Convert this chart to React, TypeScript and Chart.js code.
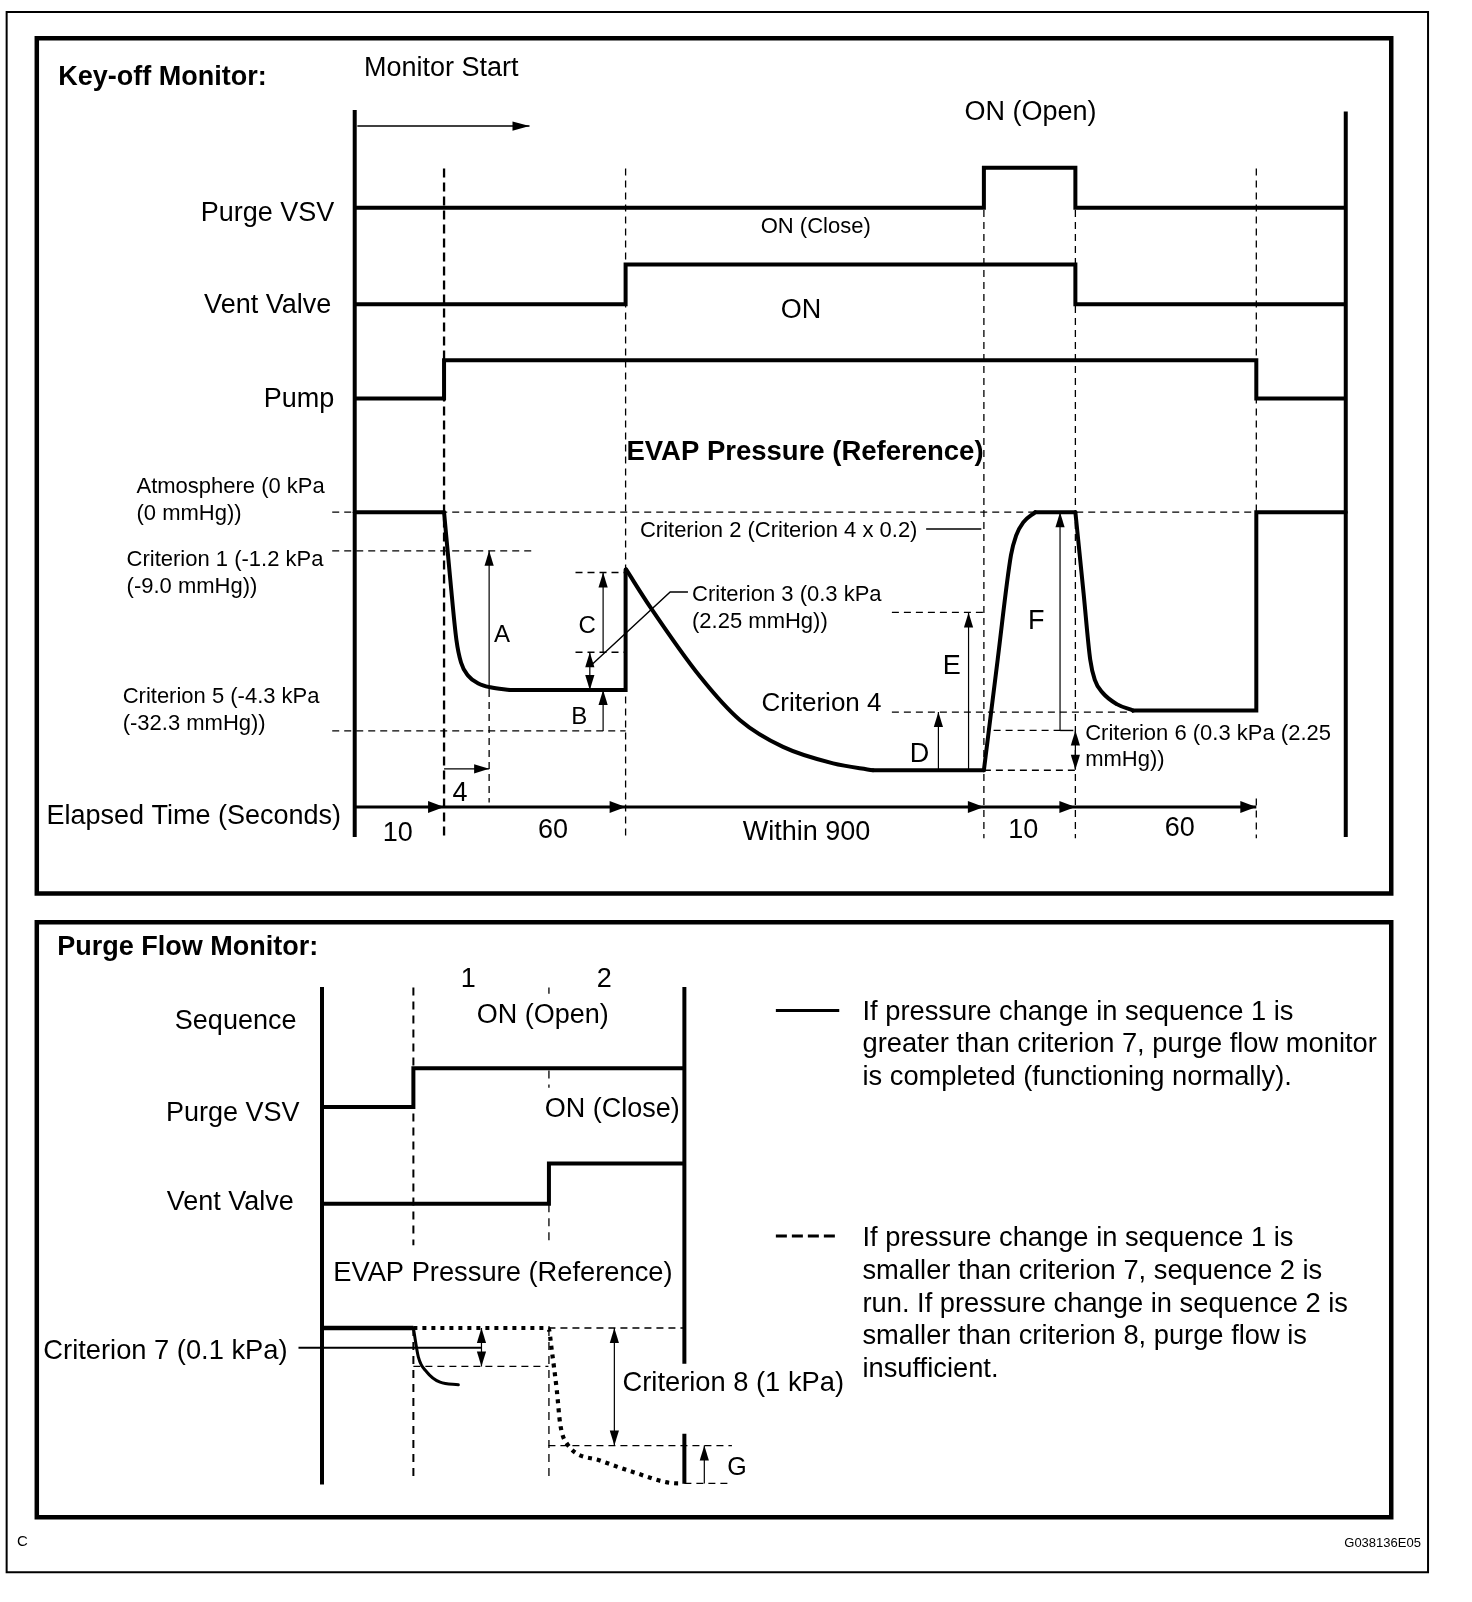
import React, { useEffect, useRef } from 'react';
import { Chart, registerables } from 'chart.js';

Chart.register(...registerables);

type Pt = [number, number];
type Arrow = { from: Pt; to: Pt; both?: boolean; big?: boolean };
type Label = { t: string; x: number; y: number; s: number; a?: CanvasTextAlign; b?: boolean };

const CANVAS_W = 1472;
const CANVAS_H = 1602;
const X_MAX = 1440;
const Y_MAX = 1567;
const FONT = '"Liberation Sans", Arial, Helvetica, sans-serif';
const TEXT_DY = 1.5;

// ---------- frames ----------
const OUTER_FRAME: Pt[] = [[6.5, 11.7], [1397, 11.7], [1397, 1538], [6.5, 1538], [6.5, 11.7]];
const TOP_PANEL: Pt[] = [[36, 37.5], [1361, 37.5], [1361, 874], [36, 874], [36, 37.5]];
const BOTTOM_PANEL: Pt[] = [[36, 902], [1361, 902], [1361, 1484], [36, 1484], [36, 902]];

// ---------- Key-off monitor ----------
const KO_AXES: Pt[][] = [
  [[347, 107.6], [347, 818.6]],
  [[1316.5, 109], [1316.5, 818.6]],
];
const KO_PURGE_VSV: Pt[] = [[347, 203.2], [962.5, 203.2], [962.5, 164], [1052, 164], [1052, 203.2], [1316.5, 203.2]];
const KO_VENT_VALVE: Pt[] = [[347, 297.5], [612, 297.5], [612, 258.6], [1052, 258.6], [1052, 297.5], [1316.5, 297.5]];
const KO_PUMP: Pt[] = [[347, 389.7], [434.4, 389.7], [434.4, 352.3], [1229, 352.3], [1229, 389.7], [1316.5, 389.7]];

const KO_PRESSURE_STRAIGHT: Pt[][] = [
  [[347, 501], [434.4, 501]],
  [[499, 675], [612, 675], [612, 557]],
  [[854, 753.4], [962.5, 753.4]],
  [[1012.7, 501], [1052, 501]],
  [[1108.6, 695], [1229, 695], [1229, 501], [1316.5, 501]],
];
const KO_PRESSURE_CURVES: Pt[][] = [
  [[434.4, 501], [440.5, 567], [446.5, 626], [451, 648], [458, 661], [468, 668.5], [479.7, 672.3], [499, 675]],
  [[612.5, 557], [636, 593.6], [685, 662], [724, 704.5], [766, 730.6], [815, 746.7], [854, 753.4]],
  [[962.5, 753.4], [976, 645], [989, 543], [994, 524], [1001, 511], [1012.7, 501]],
  [[1052, 501], [1060, 580], [1066.5, 645], [1071, 665], [1079, 678], [1093, 689], [1108.6, 695]],
];

const KO_GUIDE_START: Pt[] = [[434.4, 164.7], [434.4, 820]];
const KO_GUIDES_V: Pt[][] = [
  [[612, 164.7], [612, 820]],
  [[962.5, 205.5], [962.5, 820]],
  [[1052, 205.5], [1052, 820]],
  [[1229, 164.7], [1229, 695]],
  [[1229, 781], [1229, 820]],
  [[478.5, 675], [478.5, 785]],
];
const KO_GUIDES_H: Pt[][] = [
  [[325, 501], [1229, 501]],
  [[325, 538.8], [522, 538.8]],
  [[325, 715], [612, 715]],
  [[563, 560], [612, 560]],
  [[563, 638], [612, 638]],
  [[872.5, 599], [962.5, 599]],
  [[872.5, 696.5], [1108.6, 696.5]],
  [[972, 714.5], [1037, 714.5]],
  [[962.5, 753.4], [1052, 753.4]],
];
const KO_LEADERS: Pt[][] = [
  [[906, 517.5], [960, 517.5]],
  [[577, 652], [655.6, 579], [673, 579]],
  [[1037, 714.5], [1050, 714.5]],
];
const KO_ARROWS: Arrow[] = [
  { from: [349.6, 123.3], to: [518, 123.3], big: true },
  { from: [478.5, 675], to: [478.5, 538.8] },
  { from: [590, 638], to: [590, 560] },
  { from: [590, 715], to: [590, 675] },
  { from: [577, 638], to: [577, 675], both: true },
  { from: [918, 753.4], to: [918, 696.5] },
  { from: [947.5, 753.4], to: [947.5, 599] },
  { from: [1037, 714.5], to: [1037, 501] },
  { from: [1052, 714.5], to: [1052, 753], both: true },
  { from: [434.4, 752], to: [478.5, 752] },
];

const ELAPSED_MARKS = [347, 434.4, 612, 962.5, 1052, 1229];
const ELAPSED_Y = 789.3;
const ELAPSED_LABELS = ['10', '60', 'Within 900', '10', '60'];
const ELAPSED_LABEL_X = [389, 541, 789, 1001, 1154];
const ELAPSED_LABEL_Y = [814, 811, 813, 811, 809];

// ---------- Purge flow monitor ----------
const PF_AXES: Pt[][] = [
  [[315, 965.4], [315, 1452]],
  [[669.5, 965.4], [669.5, 1334]],
  [[669.5, 1402.5], [669.5, 1451.3]],
];
const PF_PURGE_VSV: Pt[] = [[315, 1082.8], [404.4, 1082.8], [404.4, 1045], [669.5, 1045]];
const PF_VENT_VALVE: Pt[] = [[315, 1177.5], [537, 1177.5], [537, 1138], [669.5, 1138]];
const PF_PRESSURE_BASE: Pt[] = [[315, 1299], [404.4, 1299]];
const PF_NORMAL_CURVE: Pt[] = [[404.4, 1299], [409.3, 1327.5], [417.5, 1342], [430.5, 1352], [448.4, 1354.5]];
const PF_INSUFFICIENT: Pt[] = [
  [404.4, 1299], [470, 1299], [536.5, 1299], [539.8, 1321], [544.7, 1360], [548, 1392.7],
  [554.5, 1412], [587, 1428.6], [619.7, 1440], [658.8, 1450.8], [667, 1451],
];
const PF_GUIDES_V: Pt[][] = [
  [[404.4, 966], [404.4, 1218]],
  [[404.4, 1299], [404.4, 1449]],
  [[537, 966], [537, 972]],
  [[537, 1047], [537, 1064]],
  [[537, 1178], [537, 1218]],
  [[537, 1299], [537, 1449]],
];
const PF_GUIDES_H: Pt[][] = [
  [[536.5, 1299], [669.5, 1299]],
  [[404.4, 1336.6], [536.5, 1336.6]],
  [[536.5, 1414], [716, 1414]],
  [[669.5, 1451], [716, 1451]],
];
const PF_LEADERS: Pt[][] = [[[292, 1318.4], [471, 1318.4]]];
const PF_ARROWS: Arrow[] = [
  { from: [471, 1299], to: [471, 1336.6], both: true },
  { from: [601, 1299], to: [601, 1414], both: true },
  { from: [689, 1451], to: [689, 1414] },
];
const LEGEND_SOLID: Pt[] = [[759, 988.5], [821, 988.5]];
const LEGEND_DASHED: Pt[] = [[759, 1209], [821, 1209]];
const LEGEND_TEXT_1 = [
  'If pressure change in sequence 1 is',
  'greater than criterion 7, purge flow monitor',
  'is completed (functioning normally).',
];
const LEGEND_TEXT_2 = [
  'If pressure change in sequence 1 is',
  'smaller than criterion 7, sequence 2 is',
  'run. If pressure change in sequence 2 is',
  'smaller than criterion 8, purge flow is',
  'insufficient.',
];

const LABELS: Label[] = [
  { t: 'Key-off Monitor:', x: 57, y: 74.5, s: 27, b: true },
  { t: 'Monitor Start', x: 356, y: 66, s: 27 },
  { t: 'ON (Open)', x: 1008, y: 109, s: 27, a: 'center' },
  { t: 'Purge VSV', x: 327, y: 207, s: 27, a: 'right' },
  { t: 'ON (Close)', x: 798, y: 220, s: 22, a: 'center' },
  { t: 'Vent Valve', x: 324, y: 297, s: 27, a: 'right' },
  { t: 'ON', x: 783.5, y: 302, s: 27, a: 'center' },
  { t: 'Pump', x: 327, y: 389, s: 27, a: 'right' },
  { t: 'EVAP Pressure (Reference)', x: 787.5, y: 441.5, s: 27.5, b: true, a: 'center' },
  { t: 'Atmosphere (0 kPa', x: 133.5, y: 475, s: 22 },
  { t: '(0 mmHg))', x: 133.5, y: 501, s: 22 },
  { t: 'Criterion 1 (-1.2 kPa', x: 123.8, y: 546.5, s: 22 },
  { t: '(-9.0 mmHg))', x: 123.8, y: 573, s: 22 },
  { t: 'Criterion 5 (-4.3 kPa', x: 120, y: 680.5, s: 22 },
  { t: '(-32.3 mmHg))', x: 120, y: 706.5, s: 22 },
  { t: 'A', x: 491, y: 620, s: 24, a: 'center' },
  { t: 'B', x: 566.7, y: 700, s: 24, a: 'center' },
  { t: 'C', x: 574.5, y: 611.6, s: 24, a: 'center' },
  { t: 'Criterion 2 (Criterion 4 x 0.2)', x: 626, y: 517.6, s: 22 },
  { t: 'Criterion 3 (0.3 kPa', x: 677, y: 580.5, s: 22 },
  { t: '(2.25 mmHg))', x: 677, y: 606.7, s: 22 },
  { t: 'Criterion 4', x: 745, y: 686.6, s: 26 },
  { t: 'D', x: 899.5, y: 737, s: 27, a: 'center' },
  { t: 'E', x: 931, y: 650.7, s: 27, a: 'center' },
  { t: 'F', x: 1013.7, y: 606.6, s: 27, a: 'center' },
  { t: 'Criterion 6 (0.3 kPa (2.25', x: 1061.6, y: 716, s: 22 },
  { t: 'mmHg))', x: 1061.6, y: 742, s: 22 },
  { t: '4', x: 450, y: 774.6, s: 27, a: 'center' },
  { t: 'Elapsed Time (Seconds)', x: 45.4, y: 797.5, s: 27 },
  { t: 'Purge Flow Monitor:', x: 56, y: 925, s: 27, b: true },
  { t: '1', x: 458, y: 956.3, s: 27, a: 'center' },
  { t: '2', x: 591, y: 956.3, s: 27, a: 'center' },
  { t: 'Sequence', x: 290, y: 998, s: 27, a: 'right' },
  { t: 'ON (Open)', x: 531, y: 991.5, s: 27, a: 'center' },
  { t: 'Purge VSV', x: 293, y: 1087.5, s: 27, a: 'right' },
  { t: 'ON (Close)', x: 599, y: 1083.5, s: 27, a: 'center' },
  { t: 'Vent Valve', x: 287.5, y: 1174.5, s: 27, a: 'right' },
  { t: 'EVAP Pressure (Reference)', x: 326, y: 1244.3, s: 27.3 },
  { t: 'Criterion 7 (0.1 kPa)', x: 42.4, y: 1320, s: 27.3 },
  { t: 'Criterion 8 (1 kPa)', x: 609, y: 1351.5, s: 27.3 },
  { t: 'G', x: 721, y: 1434.5, s: 25, a: 'center' },
  { t: 'C', x: 16.6, y: 1507, s: 15 },
  { t: 'G038136E05', x: 1390, y: 1508, s: 13, a: 'right' },
];

const LEGEND_X = 843.7;
const LEGEND_Y1 = 988.5;
const LEGEND_Y2 = 1210;
const LEGEND_STEP = 32;

// ---------- dataset helpers ----------
function ds(points: Pt[], width: number, extra: any = {}) {
  return {
    data: points.map(([x, y]) => ({ x, y })),
    showLine: true,
    borderColor: '#000',
    backgroundColor: '#000',
    borderWidth: width,
    pointRadius: 0,
    pointHoverRadius: 0,
    pointHitRadius: 0,
    tension: 0,
    fill: false,
    borderCapStyle: 'butt',
    borderJoinStyle: 'miter',
    ...extra,
  };
}

function buildDatasets() {
  const out: any[] = [];
  const thinDash = { borderDash: [7, 5] };
  const square = { borderCapStyle: 'square' };
  const curve = { cubicInterpolationMode: 'monotone', borderCapStyle: 'round', borderJoinStyle: 'round' };

  out.push(ds(OUTER_FRAME, 2, square));
  out.push(ds(TOP_PANEL, 4.5, square));
  out.push(ds(BOTTOM_PANEL, 4.5, square));

  // guides
  out.push(ds(KO_GUIDE_START, 2.3, { borderDash: [9, 5] }));
  KO_GUIDES_V.forEach((g) => out.push(ds(g, 1.3, thinDash)));
  KO_GUIDES_H.forEach((g) => out.push(ds(g, 1.3, thinDash)));
  PF_GUIDES_V.forEach((g, i) => out.push(ds(g, i < 2 ? 2 : 1.3, { borderDash: [8, 6] })));
  PF_GUIDES_H.forEach((g) => out.push(ds(g, 1.3, thinDash)));

  // leaders
  KO_LEADERS.forEach((g) => out.push(ds(g, 1.4)));
  PF_LEADERS.forEach((g) => out.push(ds(g, 2)));

  // arrow shafts
  [...KO_ARROWS, ...PF_ARROWS].forEach((a) => out.push(ds([a.from, a.to], a.big ? 1.5 : 1.2)));
  out.push(ds([[ELAPSED_MARKS[0], ELAPSED_Y], [ELAPSED_MARKS[ELAPSED_MARKS.length - 1], ELAPSED_Y]], 3));

  // axes
  KO_AXES.forEach((a) => out.push(ds(a, 4)));
  PF_AXES.forEach((a) => out.push(ds(a, 4)));

  // signals
  out.push(ds(KO_PURGE_VSV, 4));
  out.push(ds(KO_VENT_VALVE, 4));
  out.push(ds(KO_PUMP, 4));
  KO_PRESSURE_STRAIGHT.forEach((s) => out.push(ds(s, 4, { borderCapStyle: 'round' })));
  KO_PRESSURE_CURVES.forEach((s) => out.push(ds(s, 4, curve)));

  out.push(ds(PF_PURGE_VSV, 4));
  out.push(ds(PF_VENT_VALVE, 4));
  out.push(ds(PF_PRESSURE_BASE, 4.5));
  out.push(ds(PF_NORMAL_CURVE, 3, curve));
  out.push(ds(PF_INSUFFICIENT, 4.2, { cubicInterpolationMode: 'monotone', borderDash: [4, 5] }));

  // legend samples
  out.push(ds(LEGEND_SOLID, 3));
  out.push(ds(LEGEND_DASHED, 3, { borderDash: [11, 5] }));
  return out;
}

const annotationPlugin = {
  id: 'diagramAnnotations',
  beforeDraw(chart: any) {
    const { ctx } = chart;
    ctx.save();
    ctx.fillStyle = '#fff';
    ctx.fillRect(0, 0, chart.width, chart.height);
    ctx.restore();
  },
  afterDatasetsDraw(chart: any) {
    const { ctx } = chart;
    const sx = chart.scales.x;
    const sy = chart.scales.y;
    const px = (v: number) => sx.getPixelForValue(v);
    const py = (v: number) => sy.getPixelForValue(v);
    ctx.save();
    ctx.fillStyle = '#000';

    const head = (from: Pt, to: Pt, L: number, w: number) => {
      const fx = px(from[0]);
      const fy = py(from[1]);
      const tx = px(to[0]);
      const ty = py(to[1]);
      const dx = tx - fx;
      const dy = ty - fy;
      const len = Math.hypot(dx, dy) || 1;
      const ux = dx / len;
      const uy = dy / len;
      const bx = tx - ux * L;
      const by = ty - uy * L;
      ctx.beginPath();
      ctx.moveTo(tx, ty);
      ctx.lineTo(bx - uy * w, by + ux * w);
      ctx.lineTo(bx + uy * w, by - ux * w);
      ctx.closePath();
      ctx.fill();
    };

    [...KO_ARROWS, ...PF_ARROWS].forEach((a) => {
      head(a.from, a.to, a.big ? 17 : 15, 4.6);
      if (a.both) head(a.to, a.from, 15, 4.6);
    });
    for (let i = 1; i < ELAPSED_MARKS.length; i++) {
      head([ELAPSED_MARKS[i - 1], ELAPSED_Y], [ELAPSED_MARKS[i], ELAPSED_Y], 16, 6);
    }

    const text = (t: string, x: number, y: number, s: number, a: CanvasTextAlign = 'left', b = false) => {
      ctx.font = `${b ? 'bold ' : ''}${s}px ${FONT}`;
      ctx.textAlign = a;
      ctx.textBaseline = 'middle';
      ctx.fillText(t, px(x), py(y + TEXT_DY));
    };

    LABELS.forEach((l) => text(l.t, l.x, l.y, l.s, l.a || 'left', !!l.b));
    ELAPSED_LABELS.forEach((t, i) => text(t, ELAPSED_LABEL_X[i], ELAPSED_LABEL_Y[i], 27, 'center'));
    LEGEND_TEXT_1.forEach((t, i) => text(t, LEGEND_X, LEGEND_Y1 + i * LEGEND_STEP, 27.3));
    LEGEND_TEXT_2.forEach((t, i) => text(t, LEGEND_X, LEGEND_Y2 + i * LEGEND_STEP, 27.3));
    ctx.restore();
  },
};

export default function App() {
  const ref = useRef<HTMLCanvasElement | null>(null);
  useEffect(() => {
    if (!ref.current) return;
    const chart = new Chart(ref.current, {
      type: 'scatter',
      data: { datasets: buildDatasets() },
      options: {
        responsive: false,
        maintainAspectRatio: false,
        animation: false,
        devicePixelRatio: 1,
        events: [],
        layout: { padding: 0 },
        plugins: { legend: { display: false }, tooltip: { enabled: false } },
        scales: {
          x: { type: 'linear', min: 0, max: X_MAX, display: false },
          y: { type: 'linear', min: 0, max: Y_MAX, reverse: true, display: false },
        },
      } as any,
      plugins: [annotationPlugin as any],
    });
    return () => chart.destroy();
  }, []);
  return (
    <div style={{ position: 'absolute', left: 0, top: 0, width: CANVAS_W, height: CANVAS_H, background: '#fff' }}>
      <canvas ref={ref} width={CANVAS_W} height={CANVAS_H} style={{ display: 'block', width: CANVAS_W, height: CANVAS_H }} />
    </div>
  );
}
